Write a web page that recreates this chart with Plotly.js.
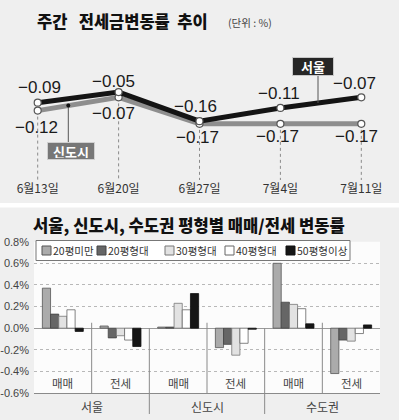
<!DOCTYPE html>
<html><head><meta charset="utf-8">
<script src="https://cdn.plot.ly/plotly-3.0.1.min.js"></script>
<style>html,body{margin:0;padding:0;background:#efefef;}#chart{width:399px;height:420px;}</style>
</head><body><div id="chart"></div>
<script>
// ---------- top chart data ----------
const weeks = ['6월13일','6월20일','6월27일','7월4일','7월11일'];
const seoul = [-0.09, -0.05, -0.16, -0.11, -0.07];
const sindosi = [-0.12, -0.07, -0.17, -0.17, -0.17];
const seriesNames = ['서울', '신도시'];

// ---------- bottom chart data ----------
const regions = ['서울', '신도시', '수도권'];
const kinds = ['매매', '전세'];
const sizeNames = ['20평미만', '20평형대', '30평형대', '40평형대', '50평형이상'];
const under20 = [0.37, 0.02, 0.01, -0.18, 0.60, -0.42];
const py20s = [0.13, -0.09, 0.01, -0.15, 0.24, -0.11];
const py30s = [0.11, -0.07, 0.23, -0.25, 0.22, -0.12];
const py40s = [0.17, -0.11, 0.17, -0.14, 0.18, -0.05];
const py50up = [-0.03, -0.17, 0.32, -0.01, 0.04, 0.03];
const yTicks = [-0.6, -0.4, -0.2, 0, 0.2, 0.4, 0.6, 0.8];

// ---------- styling ----------
const W = 399, H = 420;
const px = x => x / W, py = y => 1 - y / H;
const KR = '"Noto Sans CJK KR", "Noto Sans", sans-serif';
const NUM = '"Liberation Sans", Arial, sans-serif';

// top y mapping (pixel = Y0PIX - SLOPE*value)
const Y0PIX = 78.8, SLOPE = 265;
const yv = p => (Y0PIX - p) / SLOPE;
const topYRange = [yv(180), yv(40)];
const XPIX0 = 37.7, XSTEP = 80.9;
const xv = p => (p - XPIX0) / XSTEP;

const barSeries = [under20, py20s, py30s, py40s, py50up];
const barFill = ['#ababab', '#666666', '#e2e2e2', '#ffffff', '#161616'];
const barLine = ['#555555', '#444444', '#777777', '#666666', '#111111'];
const cats = [];
regions.forEach(r => kinds.forEach(k => cats.push(r + ' ' + k)));

const traces = [];
// top lines
[[sindosi, '#8e8e8e'], [seoul, '#141414']].forEach(([vals, col], i) => {
  traces.push({
    type: 'scatter', mode: 'lines+markers', x: weeks, y: vals,
    name: seriesNames[1 - i], xaxis: 'x', yaxis: 'y',
    line: {color: col, width: 5},
    marker: {size: 7, color: '#ffffff', line: {color: '#555', width: 1.2}},
    cliponaxis: false, hoverinfo: 'skip'
  });
});
// bottom bars
barSeries.forEach((vals, i) => {
  traces.push({
    type: 'bar', x: cats, y: vals, name: sizeNames[i], xaxis: 'x2', yaxis: 'y2',
    marker: {color: barFill[i], line: {color: barLine[i], width: 0.8}},
    hoverinfo: 'skip'
  });
});

const shapes = [];
const annotations = [];
const P = (o) => Object.assign({xref: 'paper', yref: 'paper', showarrow: false, xanchor: 'center', yanchor: 'middle'}, o);

// white separator strip
shapes.push({type: 'rect', xref: 'paper', yref: 'paper', x0: 0, x1: 1, y0: py(207.5), y1: py(203), fillcolor: '#ffffff', line: {width: 0}, layer: 'below'});
// bottom plot background
shapes.push({type: 'rect', xref: 'x2 domain', yref: 'y2 domain', x0: 0, x1: 1, y0: 0, y1: 1, fillcolor: '#fcfcfc', line: {width: 0}, layer: 'below'});

// top dotted drop lines
weeks.forEach((w, i) => {
  shapes.push({type: 'line', xref: 'x', yref: 'y', x0: i, x1: i, y0: Math.min(seoul[i], sindosi[i]), y1: topYRange[0],
    line: {color: '#8a8a8a', width: 1, dash: 'dot'}, layer: 'below'});
});

// value labels
const fmt = v => (v < 0 ? '\u2212' : '') + Math.abs(v).toFixed(2);
const seoulDx = [2, -5, -4, -1, -7], seoulDy = [15, 11, 15, 14, 13.5];
const sinDx = [-1, -5, -2, -3, -5], sinDy = [-17, -16.5, -13.5, -12.5, -12.5];
weeks.forEach((w, i) => {
  annotations.push({xref: 'x', yref: 'y', x: i, y: seoul[i], text: fmt(seoul[i]), showarrow: false,
    xanchor: 'center', yanchor: 'middle',
    xshift: seoulDx[i], yshift: seoulDy[i], font: {family: NUM, size: 17, color: '#1a1a1a'}});
  annotations.push({xref: 'x', yref: 'y', x: i, y: sindosi[i], text: fmt(sindosi[i]), showarrow: false,
    xanchor: 'center', yanchor: 'middle',
    xshift: sinDx[i], yshift: sinDy[i], font: {family: NUM, size: 17, color: '#1a1a1a'}});
});

// series name boxes + connectors
const sx = xv(318), st = sx - 3;
const sY = seoul[3] + (seoul[4] - seoul[3]) * st;
shapes.push({type: 'line', xref: 'x', yref: 'y', x0: sx, x1: sx, y0: sY, y1: yv(75), line: {color: '#555', width: 1}});
annotations.push(P({x: px(312.5), y: py(66), text: '<b>' + seriesNames[0] + '</b>',
  width: 38, height: 15, bgcolor: '#262626', bordercolor: '#c8c8c8', borderwidth: 1, borderpad: 1,
  font: {family: KR, size: 13, color: '#ffffff'}}));
const nx = xv(68.3), nt = nx;
const nY = sindosi[0] + (sindosi[1] - sindosi[0]) * nt;
shapes.push({type: 'line', xref: 'x', yref: 'y', x0: nx, x1: nx, y0: nY, y1: yv(142), line: {color: '#555', width: 1}});
shapes.push({type: 'circle', xref: 'x', yref: 'y', xsizemode: 'pixel', ysizemode: 'pixel', xanchor: nx, yanchor: nY,
  x0: -2, x1: 2, y0: -2, y1: 2, fillcolor: '#111', line: {width: 0}});
annotations.push(P({x: px(71.2), y: py(150.5), text: '<b>' + seriesNames[1] + '</b>',
  width: 44, height: 14, bgcolor: '#777777', bordercolor: '#d0d0d0', borderwidth: 1, borderpad: 1,
  font: {family: KR, size: 13, color: '#ffffff'}}));

// titles
annotations.push(P({x: px(35), y: py(21), xanchor: 'left',
  text: '주간\u00a0\u00a0\u00a0전세금변동률\u00a0\u00a0추이', font: {family: KR, size: 16.5, color: '#111', weight: 900}}));
annotations.push(P({x: px(226), y: py(22), xanchor: 'left',
  text: '(단위 : %)', font: {family: KR, size: 10.5, color: '#444'}}));
annotations.push(P({x: px(31), y: py(225), xanchor: 'left',
  text: '서울, 신도시, 수도권 평형별 매매/전세 변동률', font: {family: KR, size: 16.6, color: '#111', weight: 900}}));

// bottom: category labels & dividers
const yr = [-0.6, 0.8];
const dom2 = [py(393), py(241.7)];
const zeroPaper = dom2[0] + (0 - yr[0]) / (yr[1] - yr[0]) * (dom2[1] - dom2[0]);
cats.forEach((c, i) => {
  annotations.push({xref: 'x2', yref: 'y2', x: c, y: -0.505, text: kinds[i % 2], showarrow: false,
    xanchor: 'center', yanchor: 'middle', font: {family: KR, size: 11.5, color: '#444'}});
});
regions.forEach((r, j) => {
  annotations.push({xref: 'x2', yref: 'paper', x: 2 * j + 0.5, y: py(406.5), text: r, showarrow: false,
    xanchor: 'center', yanchor: 'middle', font: {family: KR, size: 12, color: '#444'}});
  shapes.push({type: 'line', xref: 'x2', yref: 'y2', x0: 2 * j + 0.5, x1: 2 * j + 0.5, y0: 0.05, y1: yr[0],
    line: {color: '#8a8a8a', width: 1}});
  if (j < regions.length - 1) {
    shapes.push({type: 'line', xref: 'x2', yref: 'paper', x0: 2 * j + 1.5, x1: 2 * j + 1.5, y0: zeroPaper, y1: py(414),
      line: {color: '#8a8a8a', width: 1}});
  }
});

// custom legend
shapes.push({type: 'rect', xref: 'paper', yref: 'paper', x0: px(36), x1: px(350), y0: py(260.5), y1: py(240.5),
  fillcolor: '#ffffff', line: {color: '#777', width: 1}});
const legX = [42, 97, 165, 225, 286];
sizeNames.forEach((n, i) => {
  shapes.push({type: 'rect', xref: 'paper', yref: 'paper', x0: px(legX[i]), x1: px(legX[i] + 9), y0: py(255), y1: py(246),
    fillcolor: barFill[i], line: {color: barLine[i], width: 1}});
  annotations.push(P({x: px(legX[i] + 9), y: py(250.5), xanchor: 'left',
    text: n, font: {family: KR, size: 10.5, color: '#333'}}));
});

const layout = {
  width: W, height: H, autosize: false,
  margin: {l: 0, r: 0, t: 0, b: 0, pad: 0},
  paper_bgcolor: '#efefef', plot_bgcolor: 'rgba(0,0,0,0)',
  showlegend: false,
  barmode: 'group', bargap: 0.29, bargroupgap: 0,
  xaxis: {domain: [0, 1], anchor: 'y', type: 'category', range: [xv(0), xv(W)],
    showgrid: false, zeroline: false, showline: false, ticks: '',
    tickfont: {family: KR, size: 12, color: '#333'}, fixedrange: true},
  yaxis: {domain: [py(180), py(40)], anchor: 'x', range: topYRange, visible: false, fixedrange: true},
  xaxis2: {domain: [px(34), px(380)], anchor: 'y2', type: 'category', range: [-0.5, 5.5],
    showgrid: false, zeroline: false, showline: true, linecolor: '#8a8a8a', linewidth: 1,
    ticks: '', showticklabels: false, fixedrange: true},
  yaxis2: {domain: dom2, anchor: 'x2', range: yr, tickvals: yTicks,
    ticktext: yTicks.map(v => v.toFixed(1) + '%'),
    showgrid: true, gridcolor: '#b8b8b8', griddash: 'dot', gridwidth: 1,
    zeroline: true, zerolinecolor: '#9a9a9a', zerolinewidth: 1,
    showline: false, ticks: '', ticklabelstandoff: 4,
    tickfont: {family: NUM, size: 11, color: '#444'}, fixedrange: true},
  shapes: shapes,
  annotations: annotations
};

Plotly.newPlot('chart', traces, layout, {staticPlot: true, displayModeBar: false});
</script>
</body></html>
